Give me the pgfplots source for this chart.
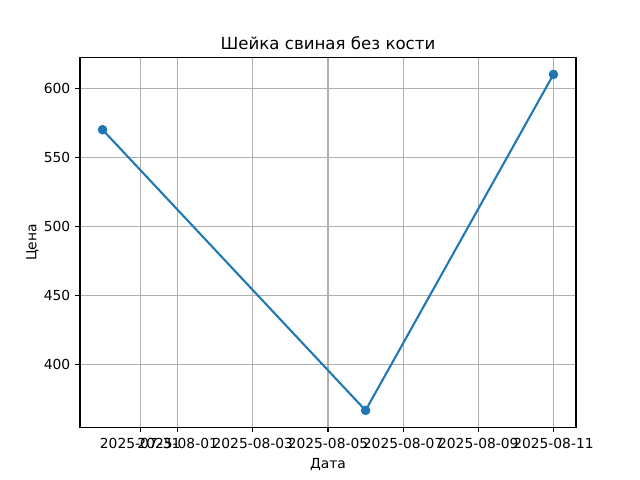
\documentclass[border=0pt]{standalone}
\usepackage{fontspec}
\setmainfont{DejaVu Sans}
\usepackage{pgfplots}
\pgfplotsset{compat=1.18}
\definecolor{c0}{HTML}{1F77B4}
\definecolor{gridgray}{HTML}{B0B0B0}
\begin{document}
\fontsize{10}{12}\selectfont
\begin{tikzpicture}
\begin{axis}[
  scale only axis,
  width=4.96in, height=3.696in,
  % x in days from 2025-08-01
  xmin=-2.6, xmax=10.6,
  ymin=354.85, ymax=622.15,
  xtick={-1,0,2,4,6,8,10},
  xticklabels={2025-07-31,2025-08-01,2025-08-03,2025-08-05,2025-08-07,2025-08-09,2025-08-11},
  ytick={400,450,500,550,600},
  /pgf/number format/assume math mode=true,
  grid=major,
  major grid style={color=gridgray, line width=0.8pt},
  axis line style={line width=0.8pt},
  tick style={black, line width=0.8pt},
  tick align=outside,
  major tick length=3.5pt,
  xtick pos=left, ytick pos=left,
  title={Шейка свиная без кости},
  title style={font=\fontsize{12}{14}\selectfont, yshift=-3.5pt},
  xlabel={Дата}, ylabel={Цена},
  xticklabel style={yshift=-1pt},
  ylabel style={yshift=-3pt},
  label style={font=\fontsize{10}{12}\selectfont},
]
\addplot[color=c0, line width=1.5pt, mark=*, mark size=3.2pt, mark options={solid, fill=c0, draw=c0, line width=0.5pt}]
  coordinates {(-2,570) (5,367) (10,610)};
\end{axis}
\path[use as bounding box]
  ([xshift=-0.8in, yshift=-0.528in]current axis.south west)
  rectangle ([xshift=0.64in, yshift=0.576in]current axis.north east);
\end{tikzpicture}
\end{document}
